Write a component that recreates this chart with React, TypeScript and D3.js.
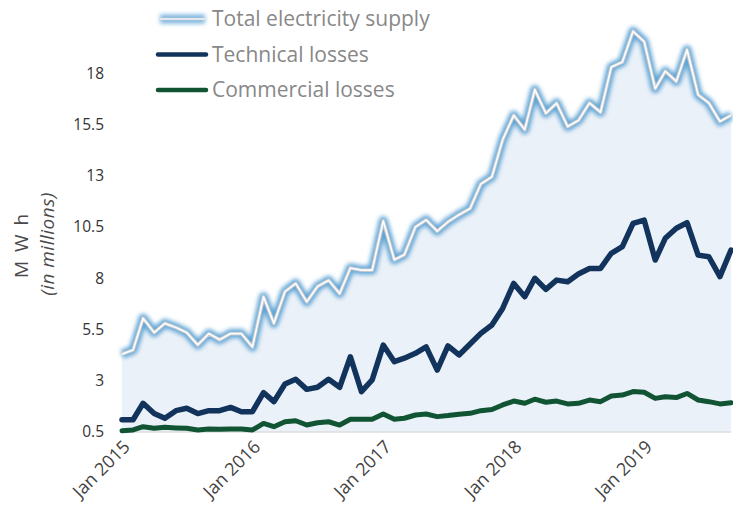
import React from 'react';
import * as d3 from 'd3';

// monthly values, Jan 2015 .. Sep 2019 (MWh, millions)
const totalSupply = [
  4.3, 4.5, 6.05, 5.35, 5.8, 5.6, 5.35, 4.75, 5.3, 5.0, 5.3, 5.3,
  4.65, 7.1, 5.8, 7.35, 7.75, 6.85, 7.6, 7.9, 7.25, 8.5, 8.4, 8.4,
  10.8, 8.9, 9.15, 10.5, 10.85, 10.3, 10.75, 11.1, 11.4, 12.6, 12.95, 14.75,
  15.95, 15.25, 17.2, 16.05, 16.55, 15.4, 15.7, 16.55, 16.1, 18.3, 18.55, 20.05,
  19.55, 17.25, 18.1, 17.6, 19.15, 16.95, 16.55, 15.65, 15.95,
];
const technicalLosses = [
  1.1, 1.1, 1.9, 1.4, 1.17, 1.54, 1.66, 1.4, 1.54, 1.54, 1.7, 1.49,
  1.49, 2.42, 1.98, 2.84, 3.07, 2.58, 2.68, 3.07, 2.68, 4.17, 2.47, 3.04,
  4.74, 3.93, 4.1, 4.34, 4.65, 3.52, 4.7, 4.26, 4.79, 5.31, 5.72, 6.53,
  7.75, 7.1, 8.0, 7.46, 7.91, 7.83, 8.21, 8.48, 8.48, 9.22, 9.54, 10.68,
  10.84, 8.89, 9.95, 10.44, 10.71, 9.13, 9.05, 8.08, 9.38,
];
const commercialLosses = [
  0.56, 0.6, 0.76, 0.68, 0.73, 0.7, 0.68, 0.6, 0.65, 0.63, 0.65, 0.65,
  0.6, 0.92, 0.76, 1.0, 1.05, 0.84, 0.95, 1.0, 0.84, 1.12, 1.12, 1.12,
  1.38, 1.12, 1.17, 1.33, 1.38, 1.25, 1.3, 1.37, 1.41, 1.54, 1.6, 1.82,
  2.01, 1.9, 2.1, 1.95, 2.01, 1.87, 1.9, 2.06, 1.98, 2.26, 2.3, 2.47,
  2.44, 2.14, 2.22, 2.18, 2.38, 2.06, 1.98, 1.87, 1.93,
];
const yTicks = [0.5, 3, 5.5, 8, 10.5, 13, 15.5, 18];
const xTickLabels = ['Jan 2015', 'Jan 2016', 'Jan 2017', 'Jan 2018', 'Jan 2019'];
const legendLabels = ['Total electricity supply', 'Technical losses', 'Commercial losses'];

const months = d3.timeMonth.range(new Date(2015, 0, 1), new Date(2019, 9, 1));
const font = '"Open Sans", sans-serif';

export default function App() {
  const x = d3.scaleTime().domain([months[0], months[months.length - 1]]).range([122, 731]);
  const y = d3.scaleLinear().domain([0.5, 20.6]).range([432, 20]);

  const line = (vals: number[]) =>
    d3.line<number>().x((_, i) => x(months[i])).y((d) => y(d))(vals) || '';
  const area = d3
    .area<number>()
    .x((_, i) => x(months[i]))
    .y0(y(0.5))
    .y1((d) => y(d))(totalSupply) || '';

  const xTicks = xTickLabels.map((_, i) => new Date(2015 + i, 0, 1));

  return (
    <svg width={733} height={512} style={{ position: 'absolute', left: 0, top: 0 }}>
      <defs>
        {/* user-space region so the glow also works on the flat legend line */}
        <filter id="glow" filterUnits="userSpaceOnUse" x={0} y={0} width={733} height={512}>
          <feGaussianBlur stdDeviation="2.3" />
        </filter>
      </defs>

      <path d={area} fill="#ebf1f8" />
      <line x1={122} x2={731} y1={432} y2={432} stroke="#dcdcdc" strokeWidth={1.5} />

      {/* total supply: blurred blue glow + light double line */}
      <path d={line(totalSupply)} fill="none" stroke="#62a6d6" strokeWidth={9} filter="url(#glow)" strokeLinejoin="round" />
      <path d={line(totalSupply)} fill="none" stroke="#c3c9d0" strokeWidth={3.8} strokeLinejoin="round" />
      <path d={line(totalSupply)} fill="none" stroke="#fdfdfd" strokeWidth={1.7} strokeLinejoin="round" />

      <path d={line(technicalLosses)} fill="none" stroke="#12335b" strokeWidth={5.5} strokeLinejoin="round" strokeLinecap="round" />
      <path d={line(commercialLosses)} fill="none" stroke="#115434" strokeWidth={5} strokeLinejoin="round" strokeLinecap="round" />

      {/* y axis */}
      {yTicks.map((t) => (
        <text key={t} x={104} y={y(t)} dy="0.35em" textAnchor="end" fontFamily={font} fontSize={15.5} fill="#333">
          {t}
        </text>
      ))}
      <text transform="translate(28,245) rotate(-90)" textAnchor="middle" fontFamily={font} fontSize={19} letterSpacing={2} fill="#4a4a4a">
        M W h
      </text>
      <text transform="translate(54,244) rotate(-90)" textAnchor="middle" fontFamily={font} fontSize={19} fontStyle="italic" letterSpacing={0.5} fill="#4a4a4a">
        (in millions)
      </text>

      {/* x axis */}
      {xTicks.map((d, i) => (
        <text
          key={i}
          transform={`translate(${x(d) + 9},${448}) rotate(-45)`}
          textAnchor="end"
          fontFamily={font}
          fontSize={18}
          fill="#444"
        >
          {xTickLabels[i]}
        </text>
      ))}

      {/* legend */}
      {legendLabels.map((label, i) => {
        const ly = 19 + i * 35.5;
        return (
          <g key={label}>
            {i === 0 ? (
              <g>
                <line x1={160} x2={205} y1={ly} y2={ly} stroke="#7db6df" strokeWidth={9} filter="url(#glow)" />
                <line x1={160} x2={205} y1={ly} y2={ly} stroke="#c9d0d8" strokeWidth={2.6} />
                <line x1={160} x2={205} y1={ly} y2={ly} stroke="#fff" strokeWidth={1} />
              </g>
            ) : (
              <line x1={158} x2={206} y1={ly} y2={ly} stroke={i === 1 ? '#12335b' : '#115434'} strokeWidth={4.5} strokeLinecap="round" />
            )}
            <text x={212} y={ly} dy="0.35em" fontFamily={font} fontSize={21} fill="#888">
              {label}
            </text>
          </g>
        );
      })}
    </svg>
  );
}
